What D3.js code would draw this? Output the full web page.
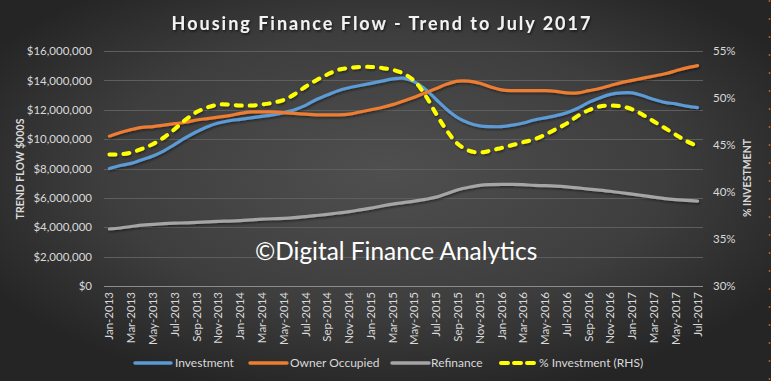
<!DOCTYPE html>
<html><head><meta charset="utf-8">
<script src="https://cdn.jsdelivr.net/npm/d3@7/dist/d3.min.js"></script>
<style>
html,body{margin:0;padding:0;background:#2a2a2a;}
svg{display:block;}
text{font-family:"Lato","Open Sans",sans-serif;}
</style></head>
<body>
<script>
const months = ["Jan","Feb","Mar","Apr","May","Jun","Jul","Aug","Sep","Oct","Nov","Dec"];
const categories = [];
for (let y = 2013; y <= 2017; y++) for (let m = 0; m < 12; m++) { if (y === 2017 && m > 6) break; categories.push(months[m] + "-" + y); }

const investment = [8.0,8.2,8.35,8.6,8.85,9.2,9.65,10.1,10.5,10.85,11.1,11.25,11.35,11.45,11.55,11.65,11.8,12.0,12.3,12.7,13.0,13.3,13.5,13.65,13.8,13.95,14.1,14.15,13.9,13.4,12.7,12.0,11.45,11.1,10.9,10.85,10.85,10.95,11.1,11.3,11.45,11.6,11.8,12.1,12.5,12.8,13.05,13.15,13.15,12.95,12.7,12.5,12.4,12.25,12.15].map(v => v*1e6);
const ownerOccupied = [10.2,10.45,10.65,10.8,10.85,10.95,11.05,11.15,11.3,11.4,11.5,11.6,11.75,11.85,11.85,11.85,11.8,11.75,11.7,11.65,11.65,11.65,11.7,11.85,12.0,12.15,12.35,12.6,12.85,13.15,13.45,13.75,13.95,13.95,13.8,13.55,13.35,13.3,13.3,13.3,13.3,13.25,13.15,13.15,13.3,13.45,13.65,13.85,14.0,14.15,14.3,14.45,14.65,14.85,15.0].map(v => v*1e6);
const refinance = [3.88,3.95,4.05,4.15,4.2,4.25,4.28,4.3,4.33,4.36,4.4,4.42,4.45,4.5,4.55,4.58,4.6,4.65,4.72,4.8,4.88,4.97,5.06,5.18,5.3,5.45,5.58,5.68,5.78,5.9,6.05,6.3,6.55,6.72,6.85,6.9,6.92,6.92,6.9,6.85,6.83,6.8,6.75,6.68,6.6,6.53,6.45,6.35,6.25,6.15,6.05,5.95,5.88,5.83,5.78].map(v => v*1e6);
const pctInvestment = [44.0,44.0,44.2,44.6,45.1,45.8,46.7,47.7,48.5,49.0,49.3,49.3,49.2,49.2,49.3,49.5,49.8,50.4,51.2,51.9,52.5,53.0,53.2,53.3,53.3,53.2,53.0,52.6,51.8,50.3,48.3,46.5,45.1,44.4,44.2,44.4,44.7,45.0,45.3,45.6,46.1,46.7,47.3,48.1,48.7,49.1,49.2,49.1,48.8,48.2,47.5,46.8,46.1,45.4,44.9];
const leftTicks = [0,2e6,4e6,6e6,8e6,10e6,12e6,14e6,16e6];
const rightTicks = [30,35,40,45,50,55];
const seriesNames = ["Investment","Owner Occupied","Refinance","% Investment (RHS)"];
const title = "Housing Finance Flow - Trend to July 2017";

const W = 771, H = 381;
const svg = d3.select("body").append("svg").attr("width", W).attr("height", H);
const defs = svg.append("defs");
const rg = defs.append("radialGradient").attr("id","bg").attr("cx","50%").attr("cy","45%").attr("r","60%");
rg.append("stop").attr("offset","0%").attr("stop-color","#4f4f4f");
rg.append("stop").attr("offset","60%").attr("stop-color","#3e3e3e");
rg.append("stop").attr("offset","100%").attr("stop-color","#252525");
const f = defs.append("filter").attr("id","sh").attr("x","-10%").attr("y","-30%").attr("width","120%").attr("height","160%");
f.append("feDropShadow").attr("dx",1).attr("dy",1.5).attr("stdDeviation",1.2).attr("flood-color","#000").attr("flood-opacity",0.6);
const fl = defs.append("filter").attr("id","lsh").attr("x","-5%").attr("y","-20%").attr("width","110%").attr("height","140%");
fl.append("feDropShadow").attr("dx",1).attr("dy",1.5).attr("stdDeviation",1).attr("flood-color","#000").attr("flood-opacity",0.45);

svg.append("rect").attr("width",W).attr("height",H).attr("fill","url(#bg)");
svg.append("line").attr("x1",769.5).attr("x2",769.5).attr("y1",0).attr("y2",H)
  .attr("stroke","#c55a11").attr("stroke-width",1.5).attr("stroke-dasharray","2,16");

const x = d3.scaleBand().domain(categories).range([104, 703]).paddingInner(0).paddingOuter(0);
const y = d3.scaleLinear().domain([0,16e6]).range([286,51]);
const y2 = d3.scaleLinear().domain([30,55]).range([286,51]);
const cx = d => x(d) + x.bandwidth()/2;

// gridlines
svg.append("g").selectAll("line").data(leftTicks.slice(1)).join("line")
  .attr("x1",104).attr("x2",703).attr("y1",d=>Math.round(y(d))+0.5).attr("y2",d=>Math.round(y(d))+0.5)
  .attr("stroke","#5e5e5e").attr("stroke-width",1);
svg.append("line").attr("x1",104).attr("x2",703).attr("y1",286.5).attr("y2",286.5).attr("stroke","#8c8c8c");

// left axis
const la = svg.append("g").attr("transform","translate(96,0)")
  .call(d3.axisLeft(y).tickValues(leftTicks).tickSize(0).tickPadding(4).tickFormat(d => "$" + d3.format(",")(d)));
la.select(".domain").remove();
la.selectAll("text").attr("fill","#d9d9d9").style("font-size","11.5px").style("font-family","Lato, 'Open Sans', sans-serif");

// right axis
const ra = svg.append("g").attr("transform","translate(709,0)")
  .call(d3.axisRight(y2).tickValues(rightTicks).tickSize(0).tickPadding(4).tickFormat(d => d + "%"));
ra.select(".domain").remove();
ra.selectAll("text").attr("fill","#d9d9d9").style("font-size","11.5px").style("font-family","Lato, 'Open Sans', sans-serif");

// x axis
const xTickVals = categories.filter((d,i) => i % 2 === 0);
const xa = svg.append("g").attr("transform","translate(0,286)")
  .call(d3.axisBottom(x).tickValues(xTickVals).tickSize(0).tickPadding(0));
xa.select(".domain").remove();
xa.selectAll("text").attr("fill","#d9d9d9").style("font-size","11.5px").style("font-family","Lato, 'Open Sans', sans-serif")
  .attr("transform","rotate(-90)").attr("text-anchor","end").attr("dy","0.35em").attr("x",-6).attr("y",0);

// axis titles
svg.append("text").attr("transform","translate(24,169) rotate(-90)").attr("text-anchor","middle")
  .attr("fill","#d9d9d9").style("font-size","10.5px").style("font-weight","bold").text("TREND FLOW $000S");
svg.append("text").attr("transform","translate(751,178) rotate(-90)").attr("text-anchor","middle")
  .attr("fill","#d9d9d9").style("font-size","10.5px").style("font-weight","bold").text("% INVESTMENT");

// title
svg.append("text").attr("x",382).attr("y",30).attr("text-anchor","middle").attr("fill","#f2f2f2")
  .style("font-size","18px").style("font-weight","bold").style("letter-spacing","2px").attr("filter","url(#sh)").text(title);

// watermark
svg.append("text").attr("x",255).attr("y",260).attr("fill","#ffffff").style("font-size","24.4px").style("font-family","Lato, 'Open Sans', sans-serif")
  .text("©Digital Finance Analytics");

// lines
const line = (ys, data) => d3.line().x((d,i) => cx(categories[i])).y(d => ys(d)).curve(d3.curveCatmullRom.alpha(0.5))(data);
const g = svg.append("g").attr("filter","url(#lsh)");
g.append("path").attr("d", line(y, refinance)).attr("fill","none").attr("stroke","#a5a5a5").attr("stroke-width",3.2).attr("stroke-linecap","round");
g.append("path").attr("d", line(y, investment)).attr("fill","none").attr("stroke","#5b9bd5").attr("stroke-width",3.2).attr("stroke-linecap","round");
g.append("path").attr("d", line(y, ownerOccupied)).attr("fill","none").attr("stroke","#ed7d31").attr("stroke-width",3.2).attr("stroke-linecap","round");
g.append("path").attr("d", line(y2, pctInvestment)).attr("fill","none").attr("stroke","#ffff00").attr("stroke-width",4).attr("stroke-linecap","round").attr("stroke-dasharray","6,8");

// legend
const legend = [
  {name: seriesNames[0], color:"#5b9bd5", x1:135, x2:171, tx:175, dash:null},
  {name: seriesNames[1], color:"#ed7d31", x1:250, x2:287, tx:290, dash:null},
  {name: seriesNames[2], color:"#a5a5a5", x1:392, x2:429, tx:431, dash:null},
  {name: seriesNames[3], color:"#ffff00", x1:501, x2:535, tx:539, dash:"7,6"}
];
const lg = svg.append("g");
legend.forEach(l => {
  lg.append("line").attr("x1",l.x1).attr("x2",l.x2).attr("y1",363).attr("y2",363).attr("stroke",l.color)
    .attr("stroke-width", l.dash ? 4 : 3.5).attr("stroke-linecap","round").attr("stroke-dasharray", l.dash);
  lg.append("text").attr("x",l.tx).attr("y",363).attr("dy","0.35em").attr("fill","#d9d9d9").style("font-size","12px").text(l.name);
});
</script>
</body></html>
